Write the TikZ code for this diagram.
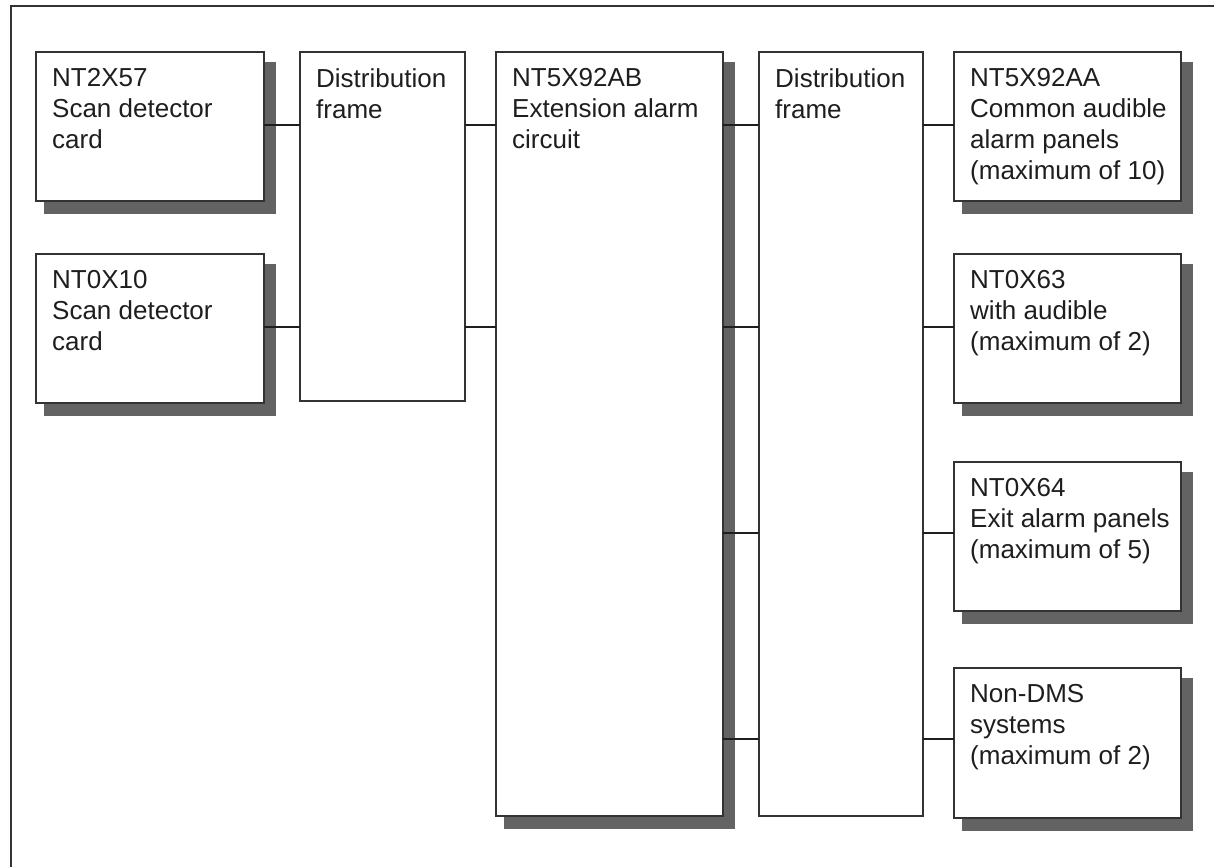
\documentclass[tikz,border=0pt]{standalone}
\usepackage{fontspec}
\setmainfont{Liberation Sans}
\pgfdeclarelayer{bg}
\pgfsetlayers{bg,main}
\definecolor{shadowgray}{HTML}{636363}
\definecolor{linegray}{HTML}{333333}
\definecolor{textgray}{HTML}{1E1E1E}
\begin{document}
\begin{tikzpicture}[x=1pt,y=-1pt,
  box/.style={draw=linegray, line width=1.4pt, fill=white, rectangle, inner sep=0pt, outer sep=0pt},
  conn/.style={draw=textgray, line width=2pt},
  frameline/.style={draw=linegray, line width=1.5pt},
  lbl/.style={anchor=north west, inner sep=0pt, align=left, text=textgray, font=\fontsize{26}{31}\selectfont},
  shadowbox/.style={fill=shadowgray}]
\useasboundingbox (0,0) rectangle (1214,867);
% outer frame (left and top edges)
\coordinate (fb) at (11,867);
\coordinate (fc) at (11,6);
\coordinate (fr) at (1214,6);
\draw[frameline] (fb) -- (fc) -- (fr);

% boxes
\node[box, minimum width=228pt, minimum height=149pt] (n1) at (150,126.5) {};
\node[box, minimum width=228pt, minimum height=149pt] (n2) at (150,328.5) {};
\node[box, minimum width=165pt, minimum height=349pt] (df1) at (382.5,226.5) {};
\node[box, minimum width=227pt, minimum height=764pt] (ea) at (609.5,434) {};
\node[box, minimum width=164pt, minimum height=764pt] (df2) at (841,434) {};
\node[box, minimum width=227pt, minimum height=149pt] (r1) at (1067.5,126.5) {};
\node[box, minimum width=227pt, minimum height=149pt] (r2) at (1067.5,328.5) {};
\node[box, minimum width=227pt, minimum height=149pt] (r3) at (1067.5,536.5) {};
\node[box, minimum width=227pt, minimum height=150pt] (r4) at (1067.5,743) {};

% shadows
\begin{pgfonlayer}{bg}
\foreach \b in {n1,n2,ea,r1,r2,r3,r4}{
  \fill[shadowgray] ([xshift=8pt,yshift=-10pt]\b.north west) rectangle ([xshift=12pt,yshift=-13pt]\b.south east);
}
\end{pgfonlayer}

% labels
\node[lbl] (tn1) at ([xshift=16pt,yshift=-16pt]n1.north west) {NT2X57\\Scan detector\\card};
\node[lbl] (tn2) at ([xshift=16pt,yshift=-16pt]n2.north west) {NT0X10\\Scan detector\\card};
\node[lbl] (tdf1) at ([xshift=16pt,yshift=-16pt]df1.north west) {Distribution\\frame};
\node[lbl] (tea) at ([xshift=16pt,yshift=-16pt]ea.north west) {NT5X92AB\\Extension alarm\\circuit};
\node[lbl] (tdf2) at ([xshift=16pt,yshift=-16pt]df2.north west) {Distribution\\frame};
\node[lbl] (tr1) at ([xshift=16pt,yshift=-16pt]r1.north west) {NT5X92AA\\Common audible\\alarm panels\\(maximum of 10)};
\node[lbl] (tr2) at ([xshift=16pt,yshift=-16pt]r2.north west) {NT0X63\\with audible\\(maximum of 2)};
\node[lbl] (tr3) at ([xshift=16pt,yshift=-16pt]r3.north west) {NT0X64\\Exit alarm panels\\(maximum of 5)};
\node[lbl] (tr4) at ([xshift=16pt,yshift=-16pt]r4.north west) {Non-DMS\\systems\\(maximum of 2)};

% connector levels
\coordinate (ya) at (0,125);
\coordinate (yb) at (0,327);
\coordinate (yc) at (0,533);
\coordinate (yd) at (0,739);

\draw[conn] (n1.east |- ya) -- (df1.west |- ya);
\draw[conn] (n2.east |- yb) -- (df1.west |- yb);
\draw[conn] (df1.east |- ya) -- (ea.west |- ya);
\draw[conn] (df1.east |- yb) -- (ea.west |- yb);
\draw[conn] (ea.east |- ya) -- (df2.west |- ya);
\draw[conn] (ea.east |- yb) -- (df2.west |- yb);
\draw[conn] (ea.east |- yc) -- (df2.west |- yc);
\draw[conn] (ea.east |- yd) -- (df2.west |- yd);
\draw[conn] (df2.east |- ya) -- (r1.west |- ya);
\draw[conn] (df2.east |- yb) -- (r2.west |- yb);
\draw[conn] (df2.east |- yc) -- (r3.west |- yc);
\draw[conn] (df2.east |- yd) -- (r4.west |- yd);
\end{tikzpicture}
\end{document}
